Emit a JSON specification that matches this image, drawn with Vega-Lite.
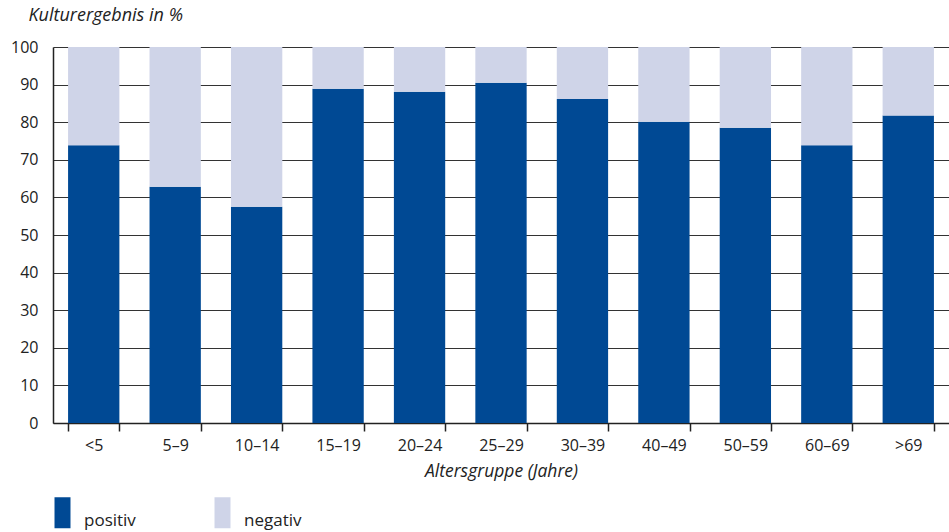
{
  "$schema": "https://vega.github.io/schema/vega-lite/v6.json",
  "width": 896,
  "height": 376,
  "autosize": {"type": "none"},
  "padding": {"left": 53, "top": 47, "right": 0, "bottom": 109},
  "background": "white",
  "data": {
    "values": [
      {"group": "<5", "result": "positiv", "value": 73.9},
      {"group": "<5", "result": "negativ", "value": 26.1},
      {"group": "5–9", "result": "positiv", "value": 62.8},
      {"group": "5–9", "result": "negativ", "value": 37.2},
      {"group": "10–14", "result": "positiv", "value": 57.5},
      {"group": "10–14", "result": "negativ", "value": 42.5},
      {"group": "15–19", "result": "positiv", "value": 88.9},
      {"group": "15–19", "result": "negativ", "value": 11.1},
      {"group": "20–24", "result": "positiv", "value": 88.1},
      {"group": "20–24", "result": "negativ", "value": 11.9},
      {"group": "25–29", "result": "positiv", "value": 90.5},
      {"group": "25–29", "result": "negativ", "value": 9.5},
      {"group": "30–39", "result": "positiv", "value": 86.2},
      {"group": "30–39", "result": "negativ", "value": 13.8},
      {"group": "40–49", "result": "positiv", "value": 80.1},
      {"group": "40–49", "result": "negativ", "value": 19.9},
      {"group": "50–59", "result": "positiv", "value": 78.5},
      {"group": "50–59", "result": "negativ", "value": 21.5},
      {"group": "60–69", "result": "positiv", "value": 73.9},
      {"group": "60–69", "result": "negativ", "value": 26.1},
      {"group": ">69", "result": "positiv", "value": 81.8},
      {"group": ">69", "result": "negativ", "value": 18.2}
    ]
  },
  "mark": {"type": "bar"},
  "encoding": {
    "x": {
      "field": "group",
      "type": "nominal",
      "sort": null,
      "scale": {"paddingInner": 0.37, "paddingOuter": 0.185},
      "axis": {
        "title": "Altersgruppe (Jahre)",
        "titleFont": "Open Sans",
        "titleFontStyle": "italic",
        "titleFontWeight": "normal",
        "titleFontSize": 17.5,
        "titleColor": "#222",
        "titlePadding": 9,
        "labelAngle": 0,
        "labelFont": "Open Sans",
        "labelFontSize": 16,
        "labelColor": "#222",
        "labelPadding": 6,
        "tickBand": "extent",
        "tickSize": 8,
        "tickColor": "#222",
        "domainColor": "#222",
        "grid": false
      }
    },
    "y": {
      "field": "value",
      "type": "quantitative",
      "stack": "zero",
      "scale": {"domain": [0, 100], "nice": false},
      "axis": {
        "title": "Kulturergebnis in %",
        "titleAngle": 0,
        "titleX": -25,
        "titleY": -32,
        "titleAlign": "left",
        "titleBaseline": "middle",
        "titleFont": "Open Sans",
        "titleFontStyle": "italic",
        "titleFontWeight": "normal",
        "titleFontSize": 18,
        "titleColor": "#222",
        "values": [0, 10, 20, 30, 40, 50, 60, 70, 80, 90, 100],
        "labelFont": "Open Sans",
        "labelFontSize": 16,
        "labelColor": "#222",
        "labelPadding": 15,
        "ticks": false,
        "grid": true,
        "gridColor": "#333",
        "gridWidth": 1.2,
        "domainColor": "#222"
      }
    },
    "color": {
      "field": "result",
      "type": "nominal",
      "scale": {"domain": ["positiv", "negativ"], "range": ["#004994", "#cfd4e8"]},
      "legend": {
        "title": null,
        "orient": "none",
        "direction": "horizontal",
        "legendX": -6,
        "legendY": 450,
        "symbolType": "M-0.516,-1H0.516V1H-0.516Z",
        "symbolSize": 961,
        "symbolStrokeWidth": 0,
        "labelFont": "Open Sans",
        "labelFontSize": 17,
        "labelColor": "#222",
        "labelOffset": 6,
        "labelBaseline": "top",
        "columnPadding": 71
      }
    },
    "order": {"field": "result", "sort": "descending"}
  },
  "config": {
    "view": {"stroke": null},
    "axis": {"domainWidth": 1.5, "tickWidth": 1.5}
  }
}
